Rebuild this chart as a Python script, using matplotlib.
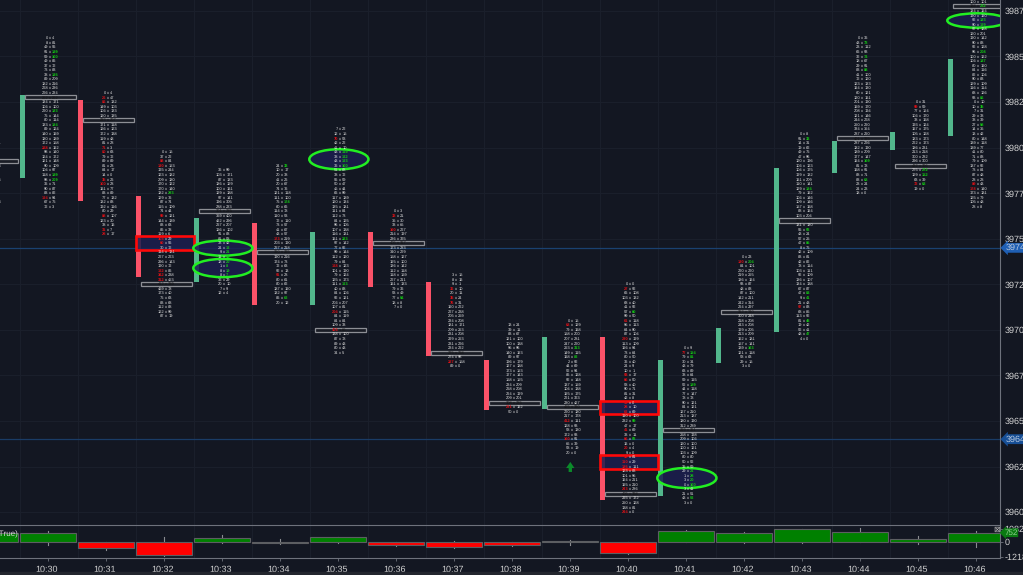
import matplotlib
matplotlib.use("Agg")
import matplotlib.pyplot as plt
from matplotlib.patches import Ellipse, Rectangle
from matplotlib.transforms import ScaledTranslation

# footprint rows per bar, (bid, ask), top row first
rows_1029 = [(44,79),(103,121),(60,84),(38,57),(91,66),(210,248),(120,133),(48,139),(72,95),(88,106),(63,84),(31,120),(52,77),(94,61),(66,108),(83,73),(40,52),(25,38),(18,20),(9,109)]
rows_1030 = [(0,4),(8,81),(49,56),(91,139),(59,100),(49,86),(37,72),(73,83),(38,135),(89,209),(182,216),(228,236),(226,234),(252,252),(134,171),(106,100),(220,183),(75,144),(80,114),(133,184),(89,124),(140,169),(180,189),(172,158),(228,162),(98,140),(124,172),(121,148),(90,109),(104,97),(118,139),(98,209),(36,71),(90,87),(83,82),(124,94),(67,75),(72,3)]
rows_1031 = [(0,4),(26,47),(86,132),(149,103),(106,133),(120,135),(233,207),(171,118),(126,123),(172,138),(119,48),(81,28),(71,3),(80,63),(79,72),(89,89),(81,28),(84,17),(14,0),(35,26),(100,28),(161,77),(83,89),(77,132),(132,88),(192,116),(80,29),(88,107),(123,30),(38,16),(31,7),(28,17)]
rows_1032 = [(0,15),(37,22),(88,84),(130,153),(195,244),(123,182),(209,180),(170,122),(170,140),(182,283),(129,76),(87,74),(115,109),(74,44),(99,121),(144,139),(83,63),(86,38),(119,6),(105,29),(60,56),(30,72),(114,131),(227,223),(296,143),(190,72),(122,86),(342,238),(312,453),(412,389),(469,78),(173,40),(75,63),(83,68),(112,88),(122,99),(87,19)]
rows_1033 = [(36,99),(103,171),(87,133),(186,129),(100,161),(129,188),(97,141),(196,305),(288,233),(301,285),(359,400),(462,296),(267,207),(126,102),(91,88),(81,58),(33,42),(24,12),(9,21),(11,14),(18,20),(1,8),(8,19),(8,7),(35,29),(20,10),(7,9),(12,4)]
rows_1034 = [(24,33),(10,17),(20,38),(41,26),(20,67),(74,76),(121,118),(111,100),(75,178),(60,66),(114,78),(110,53),(72,110),(73,57),(41,67),(43,57),(173,219),(203,190),(267,218),(310,295),(190,216),(174,73),(72,63),(92,13),(91,28),(80,61),(80,62),(187,160),(132,97),(86,62),(20,12)]
rows_1035 = [(7,22),(12,15),(70,53),(42,22),(41,10),(43,119),(38,122),(43,123),(36,100),(51,88),(38,72),(56,59),(50,47),(45,44),(66,99),(117,189),(120,134),(135,181),(111,84),(112,73),(84,125),(96,105),(107,138),(116,131),(161,223),(97,142),(77,92),(99,144),(112,120),(79,84),(128,123),(101,190),(79,124),(125,173),(111,123),(40,88),(84,106),(92,121),(206,207),(107,81),(204,115),(84,119),(84,84),(109,33),(406,65),(138,100),(87,78),(89,43),(80,43),(34,5)]
rows_1036 = [(0,3),(33,21),(35,30),(33,65),(160,227),(214,197),(236,325),(405,317),(173,283),(340,229),(158,127),(165,100),(136,142),(112,118),(118,159),(227,211),(161,133),(79,36),(53,49),(77,54),(18,8),(7,0)]
rows_1037 = [(3,15),(8,16),(9,1),(36,10),(20,11),(35,24),(76,31),(160,222),(227,238),(205,259),(234,208),(181,171),(209,253),(231,208),(299,253),(231,226),(234,262),(275,268),(274,98),(227,158),(89,0)]
rows_1038 = [(13,24),(39,11),(83,67),(121,100),(100,138),(95,96),(140,163),(89,97),(196,179),(127,188),(173,153),(177,143),(158,155),(234,209),(268,208),(264,199),(209,201),(308,235),(231,162),(50,0)]
rows_1039 = [(0,15),(68,129),(79,168),(158,200),(207,281),(247,220),(253,313),(149,115),(168,82),(2,92),(44,69),(52,94),(86,128),(92,148),(137,159),(104,138),(165,175),(221,323),(230,427),(455,330),(220,180),(217,178),(412,111),(128,93),(58,130),(172,93),(160,91),(65,39),(58,19),(20,0)]
rows_1040 = [(0,0),(27,92),(66,108),(103,132),(68,40),(41,92),(57,60),(99,50),(61,118),(95,113),(64,90),(87,104),(230,199),(113,109),(166,94),(73,64),(80,50),(36,40),(24,9),(10,1),(93,17),(66,50),(58,40),(90,71),(81,31),(42,8),(72,0),(28,10),(62,69),(110,100),(232,99),(47,17),(41,69),(33,11),(66,92),(16,0),(20,4),(9,0),(33,81),(110,29),(185,111),(123,83),(101,95),(164,211),(165,210),(243,286),(405,398),(295,172),(250,128),(138,81),(244,0)]
rows_1041 = [(0,9),(77,154),(79,81),(30,34),(43,79),(63,89),(38,64),(59,115),(52,189),(44,118),(77,147),(78,78),(90,121),(84,121),(127,210),(213,187),(180,190),(312,289),(299,321),(258,198),(209,106),(120,100),(100,121),(103,109),(80,80),(50,52),(36,59),(29,21),(1,28),(3,20),(0,100),(3,41),(21,51),(43,52),(3,0)]
rows_1042 = [(0,23),(130,204),(84,101),(220,220),(219,255),(136,164),(93,87),(48,88),(87,100),(142,211),(242,314),(264,297),(312,340),(300,248),(218,208),(243,208),(199,205),(213,209),(162,181),(157,141),(139,163),(121,118),(58,63),(29,15),(3,0)]
rows_1043 = [(0,8),(91,33),(14,31),(19,62),(49,75),(47,96),(120,196),(106,123),(104,175),(199,132),(161,209),(110,141),(129,184),(79,162),(106,146),(109,146),(157,168),(88,164),(103,204),(215,256),(131,130),(56,92),(43,24),(57,25),(47,85),(8,75),(42,109),(83,81),(42,82),(78,114),(103,111),(92,109),(136,107),(134,138),(67,87),(47,83),(9,41),(21,43),(97,88),(68,85),(113,92),(81,48),(19,42),(52,41),(48,47),(4,0)]
rows_1044 = [(0,36),(43,78),(23,112),(66,93),(32,74),(18,67),(29,91),(83,88),(41,100),(72,120),(123,133),(164,130),(60,121),(120,161),(201,190),(169,170),(208,194),(121,146),(244,228),(250,260),(334,354),(287,260),(401,395),(287,226),(182,190),(189,209),(177,147),(164,169),(81,78),(168,91),(88,71),(83,68),(23,24),(24,23),(18,0)]
rows_1045 = [(0,31),(99,59),(77,154),(106,170),(38,168),(193,124),(167,175),(105,128),(183,173),(222,173),(186,231),(213,218),(300,282),(296,300),(432,396),(275,272),(129,152),(63,39),(72,63),(19,0)]
rows_1046 = [(100,101),(188,232),(134,164),(190,160),(92,133),(90,129),(97,128),(120,201),(190,142),(90,88),(92,128),(96,208),(100,122),(106,137),(80,160),(84,116),(82,104),(90,83),(129,109),(116,114),(68,126),(93,86),(0,10),(10,35),(7,31),(29,38),(38,39),(27,58),(14,35),(13,42),(80,148),(139,118),(139,77),(41,80),(71,88),(79,109),(137,92),(73,84),(87,48),(28,28),(89,43),(178,140),(173,181),(125,79),(105,48),(28,8)]

# highest traded price of each bar, and the point of control row
top_price = [3980.5,3986.0,3983.0,3979.75,3978.75,3979.0,3981.0,3976.5,3973.0,3970.25,3970.5,3972.5,3969.0,3974.0,3980.75,3986.0,3982.5,3988.0]
poc_row = [5,13,6,29,9,19,44,7,17,17,19,46,18,12,19,22,14,1]
# rows where bid is red / ask is green
red_rows = [[],[24,35],[1,2,12,13,19,20,27,30,31],[2,3,14,19,20,26,27,28],[],[16,24],[2,30,40,44],[1,4],[3,5,6,19],[18],[1,22,26],
            [1,8,12,20,21,26,27,28,32,34,36,38,39,40,45,50],[1],[1],[38],[],[1,18],[40,41]]
green_rows = [[7,11,19],[3,4,8,16,19,30,31],[],[9],[17,18,19,20,21,22,23],[0,8,29],[5,6,7,8,24,34],[19],[],[],[6,8],
              [6,30,34],[1,2,8,27,28,29,30,33],[1,20],[1,12,21,24,35,36,41,44],[1,4,7,27,31],[15,16,18],[1,4,5,11,13,21,23,27]]

times = ["10:30","10:31","10:32","10:33","10:34","10:35","10:36","10:37","10:38","10:39","10:40","10:41","10:42","10:43","10:44","10:45","10:46"]
candle_open = [3978.33,3982.62,3977.35,3972.63,3975.87,3971.37,3975.37,3972.63,3968.35,3965.66,3969.61,3960.88,3968.18,3969.88,3978.61,3979.87,3980.64]
candle_close = [3982.89,3977.07,3972.90,3976.14,3971.37,3975.37,3972.35,3968.57,3965.60,3969.61,3960.66,3968.35,3970.10,3978.88,3980.37,3980.86,3984.87]

# lower panel, first value is the bar before 10:30
delta = [729,729,-486,-1053,324,-120,365,-243,-405,-243,60,-891,891,729,1053,810,243,752]
delta_high = [810,891,0,405,567,243,445,0,80,0,160,0,970,810,1053,1134,486,891]
delta_low = [-80,-243,-648,-1134,-81,-160,-80,-320,-485,-320,-240,-970,0,-80,-80,0,-162,-405]

# drawn marks on the chart: bar, price low, price high
red_boxes = [(2,3974.38,3975.15),(10,3965.38,3966.11),(10,3962.35,3963.13)]
green_rings = [(3,3974.07,3974.90),(3,3972.89,3973.89),(5,3978.81,3979.91),(11,3961.32,3962.42),(16,3986.58,3987.37)]

price_ticks = [3960,3962.5,3965,3967.5,3970,3972.5,3975,3977.5,3980,3982.5,3985,3987.5]

bars = [rows_1029,rows_1030,rows_1031,rows_1032,rows_1033,rows_1034,rows_1035,rows_1036,rows_1037,rows_1038,rows_1039,rows_1040,rows_1041,rows_1042,rows_1043,rows_1044,rows_1045,rows_1046]

BG = "#131722"
GRID = "#1b202c"
AXIS = "#6e727c"
TXT = "#e0e0e0"
UP = "#52b78c"
DOWN = "#fb5268"
SPACE = 58.0  # px per bar
plt.rcParams["font.family"] = ["Liberation Sans", "DejaVu Sans"]
plt.rcParams["text.hinting"] = "no_hinting"
plt.rcParams["text.hinting_factor"] = 1

fig = plt.figure(figsize=(10.23, 5.75), dpi=100, facecolor=BG)
ax = fig.add_axes([0, 50/575, 1000/1023, 525/575], facecolor=BG)
ax2 = fig.add_axes([0, 17/575, 1000/1023, 33/575], facecolor=BG)
fig.patches.append(Rectangle((0, 0), 1, 3/575, transform=fig.transFigure, color="#23262e", zorder=0))

xlim = (-48.3/SPACE, (1000-48.3)/SPACE)
for a in (ax, ax2):
    a.set_xlim(xlim)
    for i in range(-1, 18):
        a.axvline(i - 0.488, color=GRID, lw=0.7, zorder=0)
    a.spines["left"].set_visible(False)
    a.spines["top"].set_visible(False)
    a.spines["bottom"].set_visible(False)
    a.spines["right"].set_color(AXIS)
    a.yaxis.tick_right()

# main panel
ax.set_ylim(3959.29, 3988.10)
ax.set_yticks(price_ticks)
ax.set_yticklabels(["%.2f" % p for p in price_ticks], fontsize=6.4, color="#d2d2d2")
ax.tick_params(axis="y", length=0, pad=3.5)
ax.set_xticks([])
for p in price_ticks:
    ax.axhline(p, color=GRID, lw=0.7, zorder=0)
ax.axhline(3974.5, color="#1a4170", lw=0.9, zorder=1)
ax.axhline(3964.0, color="#1a3c66", lw=0.9, zorder=1)

for i in range(17):
    up = candle_close[i] >= candle_open[i]
    ax.bar(i - 0.445, abs(candle_close[i] - candle_open[i]), width=5.5/SPACE,
           bottom=min(candle_open[i], candle_close[i]), color=UP if up else DOWN, zorder=2)

for b, lo, hi in red_boxes:
    ax.add_patch(Rectangle((b - 0.488, lo), 1.0, hi - lo, facecolor=(0.11, 0.12, 0.31, 0.85),
                           edgecolor="#ff0808", lw=1.9, zorder=3))
for b, lo, hi in green_rings:
    ax.add_patch(Ellipse((b + 0.01, (lo + hi) / 2), 1.02, hi - lo, facecolor=(0.11, 0.12, 0.31, 0.85),
                         edgecolor="#22ee22", lw=1.8, zorder=3))

for n, rows in enumerate(bars):
    i = n - 1
    tc = i + 2/SPACE
    for r, (bid, ask) in enumerate(rows):
        y = top_price[n] - 0.25 * r
        is_poc = r == poc_row[n]
        if is_poc:
            ax.add_patch(Rectangle((i - 23/SPACE, y - 0.11), 51/SPACE, 0.22, facecolor="#1a1d26",
                                   edgecolor="#8d8f95", lw=0.9, zorder=4))
        bid_col = "#111111" if is_poc else TXT
        ask_col = "#111111" if is_poc else TXT
        bid_w = ask_w = "normal"
        if r in red_rows[n]:
            bid_col = "#e01015"
            bid_w = "bold"
        if r in green_rows[n]:
            ask_col = "#12cc12"
            ask_w = "bold"
        ax.text(tc - 1.9/SPACE, y, str(bid), ha="right", va="center", fontsize=3.2, color=bid_col, weight=bid_w, zorder=5, clip_on=True)
        ax.text(tc, y, "x", ha="center", va="center", fontsize=3.2, color="#111111" if is_poc else TXT, zorder=5, clip_on=True)
        ax.text(tc + 1.9/SPACE, y, str(ask), ha="left", va="center", fontsize=3.2, color=ask_col, weight=ask_w, zorder=5, clip_on=True)

# signal arrow under 10:39
ax.annotate("", xy=(9, 3962.75), xytext=(9, 3962.2),
            arrowprops=dict(arrowstyle="simple,head_length=0.4,head_width=0.55,tail_width=0.22",
                            color="#0b8a2a", lw=0, mutation_scale=11, shrinkA=0, shrinkB=0), zorder=5)

# price tags on the axis
for p, lab, col in [(3974.5, "3974.50", "#1f5fb4"), (3964.0, "3964.00", "#174f96")]:
    ax.annotate(lab, xy=(1, p), xycoords=("axes fraction", "data"), xytext=(4, 0), textcoords="offset points",
                ha="left", va="center", fontsize=6.4, color="#b6c6dc", annotation_clip=False,
                bbox=dict(boxstyle="larrow,pad=0.08", fc=col, ec="none"), zorder=6)

# lower panel
ax2.set_ylim(-1296, 1377)
for n, d in enumerate(delta):
    i = n - 1
    ax2.plot([i, i], [delta_low[n], delta_high[n]], color="#8a8c90", lw=0.8, zorder=1)
    ax2.bar(i, d, width=56/SPACE, color="#008000" if d >= 0 else "#ff0000", edgecolor="#5c5e62", lw=0.8, zorder=2)
ax2.set_yticks([-1218, 0, 1082])
ax2.set_yticklabels(["-1218", "0", "1082"], fontsize=6.4, color="#d2d2d2")
ax2.tick_params(axis="y", length=2, width=0.6, color=AXIS, pad=1)
ax2.set_xticks(range(17))
ax2.set_xticklabels(times, fontsize=6.3, color="#d2d2d2")
ax2.tick_params(axis="x", length=2, width=0.6, color=AXIS, pad=3)
ax2.spines["top"].set_visible(True)
ax2.spines["top"].set_color(AXIS)
ax2.spines["bottom"].set_visible(True)
ax2.spines["bottom"].set_color(AXIS)
shift = ScaledTranslation(-2/100, 0, fig.dpi_scale_trans)
for lab in ax2.get_xticklabels():
    lab.set_transform(lab.get_transform() + shift)

ax2.text(18/1000, 0.71, "(True)", transform=ax2.transAxes, ha="right", va="center", fontsize=6, color="#d8d8d8", zorder=5)
ax2.annotate("752", xy=(1, 752), xycoords=("axes fraction", "data"), xytext=(3, 0), textcoords="offset points",
             ha="left", va="center", fontsize=6, color="#8fd08f", annotation_clip=False,
             bbox=dict(boxstyle="larrow,pad=0.08", fc="#0a7a12", ec="none"), zorder=6)
ax2.text(0.9965, 0.85, "\u22a0", transform=ax2.transAxes, ha="center", va="center", fontsize=6, color="#b8b8b8",
         family="DejaVu Sans", zorder=6)

fig.savefig("out.png", dpi=100, facecolor=BG)
